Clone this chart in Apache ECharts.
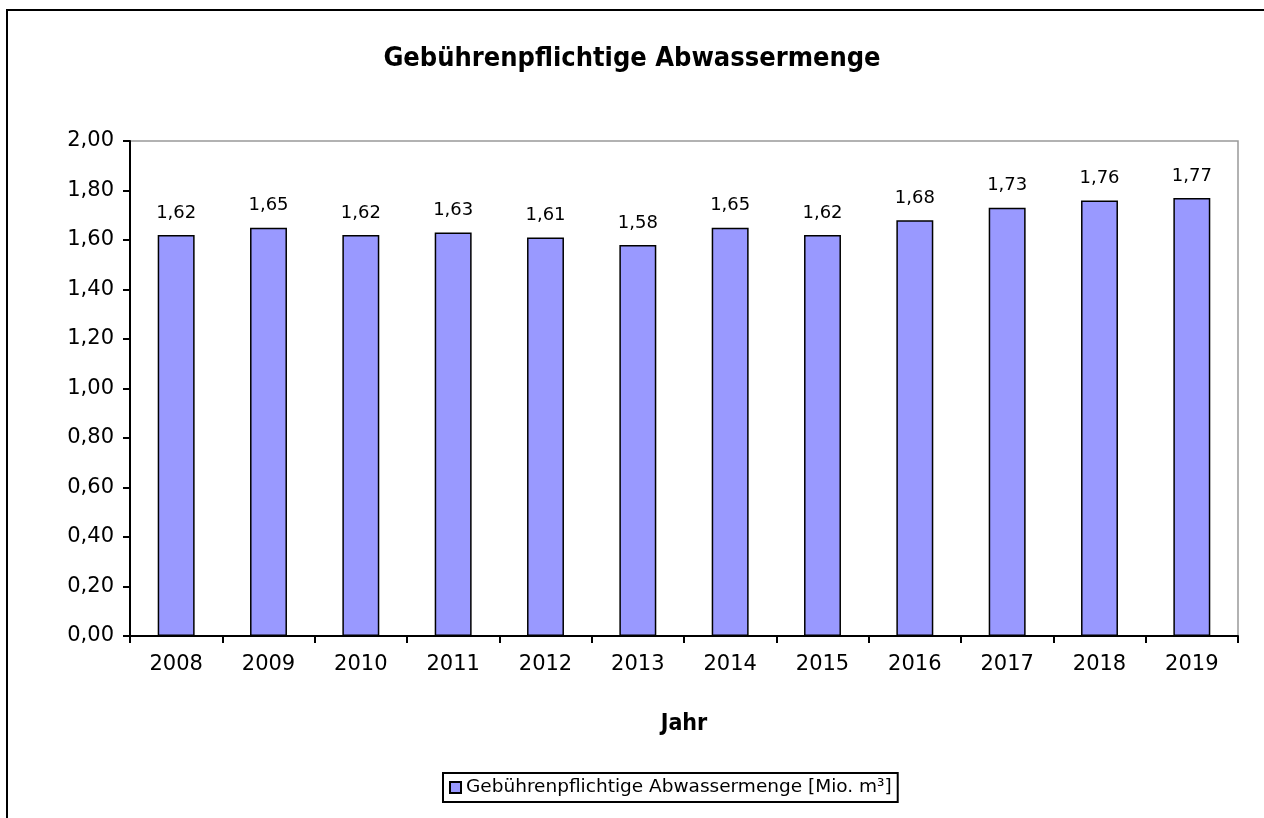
<!DOCTYPE html>
<html>
<head>
<meta charset="utf-8">
<script src="https://cdn.jsdelivr.net/npm/echarts@6/dist/echarts.min.js"></script>
<style>
  html, body { margin: 0; padding: 0; background: #fff; }
  #chart { width: 1264px; height: 818px; }
</style>
</head>
<body>
<div id="chart"></div>
<script>
// data
const years = ['2008', '2009', '2010', '2011', '2012', '2013', '2014', '2015', '2016', '2017', '2018', '2019']
const mengen = [1.62, 1.65, 1.62, 1.63, 1.61, 1.58, 1.65, 1.62, 1.68, 1.73, 1.76, 1.77]
const seriesName = 'Gebührenpflichtige Abwassermenge [Mio. m³]'

const komma = v => Number(v).toFixed(2).replace('.', ',')
const font = 'DejaVu Sans'

let myChart = echarts.init(document.getElementById('chart'))

myChart.setOption({
  animation: false,
  title: {
    text: 'Gebührenpflichtige Abwassermenge',
    left: 'center',
    top: 40,
    textStyle: {
      fontFamily: 'DejaVu Sans Condensed',
      fontWeight: 'bold',
      fontSize: 27,
      color: '#000'
    }
  },
  graphic: [
    {
      type: 'rect',
      shape: { x: 7, y: 10, width: 1400, height: 900 },
      style: { fill: 'none', stroke: '#000', lineWidth: 2 },
      silent: true
    }
  ],
  grid: {
    left: 130,
    top: 141,
    right: 26,
    bottom: 182,
    show: true,
    borderColor: '#999',
    borderWidth: 1.5,
    containLabel: false
  },
  legend: {
    left: 443,
    top: 773,
    itemWidth: 11,
    itemHeight: 11,
    icon: 'rect',
    borderColor: '#000',
    borderWidth: 2,
    borderRadius: 0,
    padding: [5, 6, 5, 6],
    itemGap: 6,
    textStyle: { fontFamily: font, fontSize: 18.5, color: '#000' },
    data: [seriesName]
  },
  xAxis: {
    type: 'category',
    data: years,
    name: 'Jahr',
    nameLocation: 'middle',
    nameGap: 77,
    nameTextStyle: { fontFamily: 'DejaVu Sans Condensed', fontWeight: 'bold', fontSize: 23, color: '#000' },
    axisLine: { lineStyle: { color: '#000', width: 2 } },
    axisTick: { show: true, length: 7, lineStyle: { color: '#000', width: 2 } },
    axisLabel: { fontFamily: font, fontSize: 21, color: '#000', margin: 18 }
  },
  yAxis: {
    type: 'value',
    min: 0,
    max: 2,
    interval: 0.2,
    axisLine: { show: true, lineStyle: { color: '#000', width: 2 } },
    axisTick: { show: true, length: 7, lineStyle: { color: '#000', width: 2 } },
    splitLine: { show: false },
    axisLabel: { fontFamily: font, fontSize: 21, color: '#000', margin: 16, formatter: komma }
  },
  series: [
    {
      name: seriesName,
      type: 'bar',
      data: mengen,
      barWidth: '40%',
      itemStyle: { color: '#9999FF', borderColor: '#000', borderWidth: 1.5 },
      label: {
        show: true,
        position: 'top',
        distance: 13,
        fontFamily: font,
        fontSize: 18,
        color: '#000',
        formatter: p => komma(p.value)
      }
    }
  ]
})
</script>
</body>
</html>
